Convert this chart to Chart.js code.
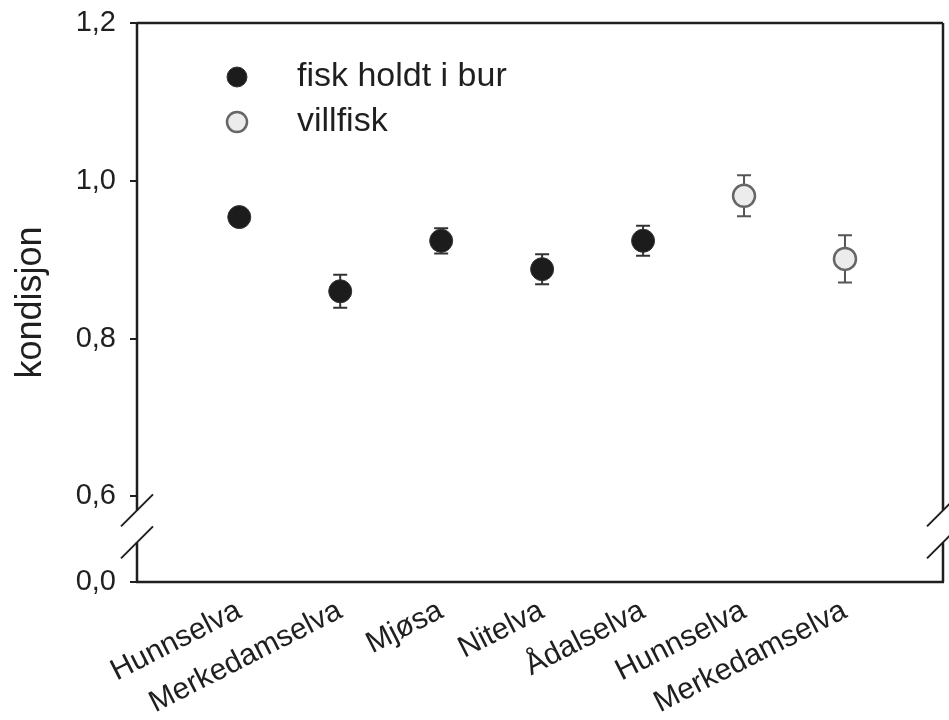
<!DOCTYPE html>
<html>
<head>
<meta charset="utf-8">
<script src="https://cdn.jsdelivr.net/npm/chart.js@4.4.1/dist/chart.umd.min.js"></script>
<style>
  html, body { margin: 0; padding: 0; background: #fff; }
  #wrap { width: 949px; height: 720px; }
</style>
</head>
<body>
<div id="wrap"><canvas id="kondisjonChart" width="949" height="720"></canvas></div>
<script>
  // Sites along the x axis (first five: caged fish, last two: wild fish)
  const sites = ['Hunnselva', 'Merkedamselva', 'Mjøsa', 'Nitelva', 'Ådalselva', 'Hunnselva', 'Merkedamselva'];

  // Mean condition and error bar half-length, null where the group has no value
  const cagedMean = [0.954, 0.860, 0.924, 0.888, 0.924, null, null];
  const cagedErr  = [0.008, 0.021, 0.016, 0.019, 0.019, null, null];
  const wildMean  = [null, null, null, null, null, 0.981, 0.901];
  const wildErr   = [null, null, null, null, null, 0.026, 0.030];

  // y ticks - the lowest one is where "0,0" sits below the axis break
  const yTickValues = [0.4915, 0.6, 0.8, 1.0, 1.2];
  const yTickLabels = ['0,0', '0,6', '0,8', '1,0', '1,2'];

  const ink = '#1f1f1f';
  const fontFamily = "'Liberation Sans', Arial, sans-serif";

  function toPoints(means, errs) {
    const pts = [];
    means.forEach((v, i) => {
      if (v !== null) pts.push({ x: i, y: v, err: errs[i] });
    });
    return pts;
  }

  // Frame with broken axis, error bars and the inset legend
  const breakFrame = {
    id: 'breakFrame',
    beforeDatasetsDraw(chart) {
      const { ctx, chartArea: a, scales: { y } } = chart;
      const y06 = y.getPixelForValue(0.6);
      const cut1 = y06 + 14, cut2 = y06 + 46;
      ctx.save();
      ctx.strokeStyle = ink;
      ctx.lineWidth = 2.5;
      ctx.lineCap = 'butt';
      ctx.beginPath();
      // top and bottom
      ctx.moveTo(a.left, a.top); ctx.lineTo(a.right, a.top);
      ctx.moveTo(a.left - 1, a.bottom); ctx.lineTo(a.right + 1, a.bottom);
      // left and right with a gap for the break
      [a.left, a.right].forEach(x => {
        ctx.moveTo(x, a.top); ctx.lineTo(x, cut1);
        ctx.moveTo(x, cut2); ctx.lineTo(x, a.bottom);
      });
      ctx.stroke();
      // break slashes
      ctx.lineWidth = 2;
      ctx.beginPath();
      [a.left, a.right].forEach(x => {
        [cut1, cut2].forEach(cy => {
          ctx.moveTo(x - 16, cy + 16);
          ctx.lineTo(x + 16, cy - 16);
        });
      });
      ctx.stroke();

      // error bars
      chart.data.datasets.forEach((ds, di) => {
        const meta = chart.getDatasetMeta(di);
        ctx.strokeStyle = ds.errorColor;
        ctx.lineWidth = 2;
        meta.data.forEach((pt, i) => {
          const d = ds.data[i];
          const top = y.getPixelForValue(d.y + d.err);
          const bot = y.getPixelForValue(d.y - d.err);
          ctx.beginPath();
          ctx.moveTo(pt.x, top); ctx.lineTo(pt.x, bot);
          ctx.moveTo(pt.x - 7, top); ctx.lineTo(pt.x + 7, top);
          ctx.moveTo(pt.x - 7, bot); ctx.lineTo(pt.x + 7, bot);
          ctx.stroke();
        });
      });
      ctx.restore();
    },
    afterDraw(chart) {
      const { ctx } = chart;
      ctx.save();
      ctx.font = '34px ' + fontFamily;
      ctx.textBaseline = 'middle';
      chart.data.datasets.forEach((ds, di) => {
        const cy = 77 + di * 45;
        ctx.beginPath();
        ctx.arc(237, cy, 10, 0, Math.PI * 2);
        ctx.fillStyle = ds.backgroundColor;
        ctx.fill();
        ctx.lineWidth = ds.borderWidth;
        ctx.strokeStyle = ds.borderColor;
        ctx.stroke();
        ctx.fillStyle = ink;
        ctx.fillText(ds.label, 297, cy);
      });
      ctx.restore();
    }
  };

  const ctx = document.getElementById('kondisjonChart').getContext('2d');
  const kondisjonChart = new Chart(ctx, {
    type: 'scatter',
    data: {
      datasets: [
        {
          label: 'fisk holdt i bur',
          data: toPoints(cagedMean, cagedErr),
          backgroundColor: '#1c1c1c',
          borderColor: '#333333',
          borderWidth: 1,
          pointRadius: 11.5,
          errorColor: '#333333'
        },
        {
          label: 'villfisk',
          data: toPoints(wildMean, wildErr),
          backgroundColor: '#ececec',
          borderColor: '#666666',
          borderWidth: 2.5,
          pointRadius: 11,
          errorColor: '#555555'
        }
      ]
    },
    options: {
      responsive: false,
      animation: false,
      devicePixelRatio: 1,
      layout: { autoPadding: false, padding: { left: 0, right: 6, top: 23, bottom: 0 } },
      plugins: {
        legend: { display: false },
        tooltip: { enabled: false }
      },
      scales: {
        x: {
          type: 'linear',
          min: -1.013,
          max: 6.971,
          afterBuildTicks: axis => { axis.ticks = sites.map((s, i) => ({ value: i })); },
          afterFit: axis => {
            axis.height = 138;
            axis.paddingLeft = 0;
            axis.paddingRight = 0;
          },
          grid: { display: false },
          border: { display: false },
          ticks: {
            autoSkip: false,
            minRotation: 27,
            maxRotation: 27,
            padding: 3,
            color: ink,
            font: { family: fontFamily, size: 30 },
            callback: (value, index) => sites[index]
          }
        },
        y: {
          min: yTickValues[0],
          max: 1.2,
          afterBuildTicks: axis => { axis.ticks = yTickValues.map(v => ({ value: v })); },
          afterFit: axis => {
            axis.width = 137;
            axis.paddingTop = 0;
            axis.paddingBottom = 0;
          },
          grid: { display: true, drawOnChartArea: false, drawTicks: true, tickLength: 7, color: ink, lineWidth: 2 },
          border: { display: false },
          ticks: {
            padding: 14,
            color: ink,
            font: { family: fontFamily, size: 29 },
            callback: (value, index) => yTickLabels[index]
          },
          title: {
            display: true,
            text: 'kondisjon',
            color: ink,
            font: { family: fontFamily, size: 36 },
            padding: { top: 9, bottom: 0 }
          }
        }
      }
    },
    plugins: [breakFrame]
  });
</script>
</body>
</html>
